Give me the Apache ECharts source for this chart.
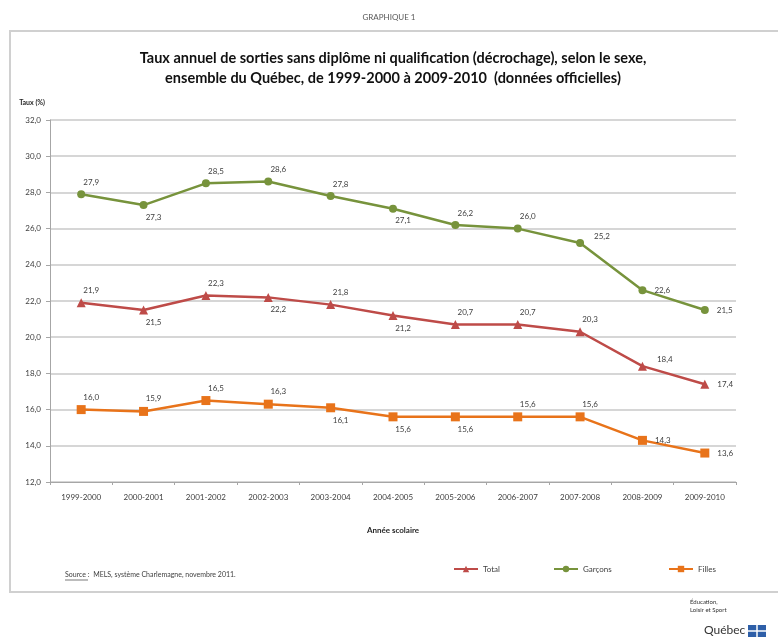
<!DOCTYPE html>
<html>
<head>
<meta charset="utf-8">
<script src="https://cdn.jsdelivr.net/npm/echarts@6/dist/echarts.min.js"></script>
<style>html,body{margin:0;padding:0;background:#fff}#c{width:778px;height:642px}</style>
</head>
<body>
<div id="c"></div>
<script>
const categories = ["1999-2000","2000-2001","2001-2002","2002-2003","2003-2004","2004-2005","2005-2006","2006-2007","2007-2008","2008-2009","2009-2010"];
const total   = [21.9, 21.5, 22.3, 22.2, 21.8, 21.2, 20.7, 20.7, 20.3, 18.4, 17.4];
const garcons = [27.9, 27.3, 28.5, 28.6, 27.8, 27.1, 26.2, 26.0, 25.2, 22.6, 21.5];
const filles  = [16.0, 15.9, 16.5, 16.3, 16.1, 15.6, 15.6, 15.6, 15.6, 14.3, 13.6];
const yTicks = { min: 12, max: 32, interval: 2 };

// label placement (style only)
const posTotal   = ['t','b','t','b','t','b','t','t','t','tr','r'];
const posGarcons = ['t','b','t','t','t','b','t','t','tr','r','r'];
const posFilles  = ['t','t','t','t','b','b','b','t','t','r','r'];

const fmt = v => v.toFixed(1).replace('.', ',');
const FONT = 'Lato, "Open Sans", sans-serif';

function labelFor(p) {
  const base = { show: true, fontSize: 8, color: '#404040', fontFamily: FONT, formatter: o => fmt(o.value) };
  if (p === 't') return Object.assign(base, { position: 'top', distance: 4, offset: [10, 0] });
  if (p === 'b') return Object.assign(base, { position: 'bottom', distance: 4, offset: [10, 0] });
  if (p === 'tr') return Object.assign(base, { position: 'right', distance: 8, offset: [2, -7] });
  return Object.assign(base, { position: 'right', distance: 8 });
}
function mk(name, data, pos, color, symbol, size) {
  return {
    name, type: 'line', data: data.map((v, i) => ({ value: v, label: labelFor(pos[i]) })),
    symbol, symbolSize: size, color,
    lineStyle: { width: 2.5, color }, itemStyle: { color },
    animation: false
  };
}

const chart = echarts.init(document.getElementById('c'), null, { renderer: 'canvas' });
chart.setOption({
  backgroundColor: '#fff',
  animation: false,
  title: [
    { text: 'GRAPHIQUE 1', left: 'center', top: 8, textStyle: { fontSize: 8, fontWeight: 'normal', color: '#595959', fontFamily: FONT } },
    { text: 'Taux annuel de sorties sans diplôme ni qualification (décrochage), selon le sexe,\nensemble du Québec, de 1999-2000 à 2009-2010  (données officielles)',
      left: 388, textAlign: 'center', top: 43,
      textStyle: { fontSize: 14.5, fontWeight: 'bold', color: '#111', lineHeight: 20, fontFamily: FONT } }
  ],
  grid: { left: 50, right: 42, top: 120, bottom: 160 },
  xAxis: {
    type: 'category', data: categories, boundaryGap: true,
    name: 'Année scolaire', nameLocation: 'middle', nameGap: 44,
    nameTextStyle: { fontSize: 8, fontWeight: 'bold', color: '#262626', fontFamily: FONT },
    axisLine: { lineStyle: { color: '#a6a6a6', width: 1 } },
    axisTick: { show: true, length: 3, lineStyle: { color: '#a6a6a6' } },
    axisLabel: { fontSize: 8, color: '#404040', margin: 11, fontFamily: FONT }
  },
  yAxis: {
    type: 'value', min: yTicks.min, max: yTicks.max, interval: yTicks.interval,
    name: 'Taux (%)', nameLocation: 'end', nameGap: 14,
    nameTextStyle: { fontSize: 7, fontWeight: 'bold', color: '#262626', align: 'right', padding: [0, 5, 0, 0], fontFamily: FONT },
    axisLine: { show: true, lineStyle: { color: '#a6a6a6' } },
    axisTick: { show: true, length: 4, lineStyle: { color: '#a6a6a6' } },
    axisLabel: { fontSize: 8, color: '#404040', margin: 9, formatter: v => fmt(v), fontFamily: FONT },
    splitLine: { lineStyle: { color: '#c8c8c8', width: 1.5 } }
  },
  legend: [
    { data: ['Total'], left: 448, top: 560, itemWidth: 24, itemHeight: 8, textStyle: { fontSize: 8, color: '#404040', fontFamily: FONT } },
    { data: ['Garçons'], left: 548, top: 560, itemWidth: 24, itemHeight: 8, textStyle: { fontSize: 8, color: '#404040', fontFamily: FONT } },
    { data: ['Filles'], left: 663, top: 560, itemWidth: 24, itemHeight: 8, textStyle: { fontSize: 8, color: '#404040', fontFamily: FONT } }
  ],
  graphic: [
    { type: 'rect', shape: { x: 10, y: 31, width: 790, height: 561 }, style: { fill: 'none', stroke: '#d0d0d0', lineWidth: 2 }, silent: true, z: -1 },
    { type: 'text', left: 65, top: 571, style: { text: 'Source :  MELS, système Charlemagne, novembre 2011.', fontSize: 7, fill: '#404040', fontFamily: FONT } },
    { type: 'line', shape: { x1: 65, y1: 580, x2: 88, y2: 580 }, style: { stroke: '#404040', lineWidth: 0.7 } },
    { type: 'text', left: 690, top: 598, style: { text: 'Éducation,\nLoisir et Sport', fontSize: 6, lineHeight: 8, fill: '#333', fontFamily: FONT } },
    { type: 'text', left: 704, top: 624, style: { text: 'Québec', fontSize: 12, fill: '#333', fontFamily: FONT } },
    { type: 'rect', shape: { x: 748, y: 625, width: 18, height: 12 }, style: { fill: '#2e5fa8' } },
    { type: 'line', shape: { x1: 757, y1: 625, x2: 757, y2: 637 }, style: { stroke: '#fff', lineWidth: 1.5 } },
    { type: 'line', shape: { x1: 748, y1: 631, x2: 766, y2: 631 }, style: { stroke: '#fff', lineWidth: 1.5 } }
  ],
  series: [
    mk('Total', total, posTotal, '#BE4B48', 'triangle', 9),
    mk('Garçons', garcons, posGarcons, '#77933C', 'circle', 8),
    mk('Filles', filles, posFilles, '#E8731A', 'rect', 9)
  ]
});
</script>
</body>
</html>
